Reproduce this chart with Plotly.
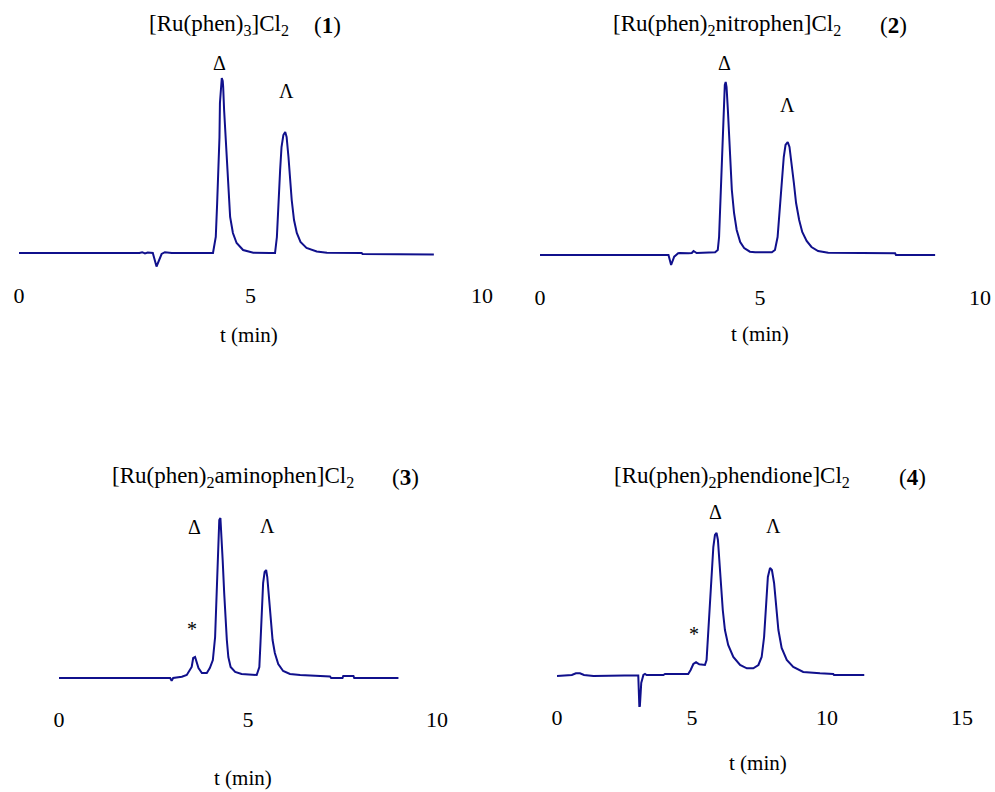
import plotly.graph_objects as go

W, H = 995, 792
FONT = "Liberation Serif, Times New Roman, serif"
LINE_COLOR = "#10108c"

# ---------------- data (retention time in min, detector signal in a.u.) ----------------
t1 = [0, 2.60, 2.66, 2.72, 2.78, 2.89, 2.97, 3.08, 3.15, 3.30, 4.19, 4.25, 4.28, 4.31, 4.33, 4.34,
      4.36, 4.38, 4.40, 4.41, 4.43, 4.46, 4.49, 4.52, 4.56, 4.62, 4.70, 4.84, 5.06, 5.42, 5.53, 5.57,
      5.60, 5.64, 5.67, 5.71, 5.75, 5.78, 5.82, 5.85, 5.89, 5.94, 6.00, 6.08, 6.21, 6.43, 6.65, 7.40,
      7.42, 8.96]
s1 = [0, 0, 0.8, -0.5, 0.5, 0, -13.5, -1, 0.8, 0, 0, 16, 50, 83, 116, 150,
      170, 175, 172, 166, 143, 116, 90, 60, 36, 20, 10, 3, 0.3, 0, 0, 16,
      50, 83, 106, 118, 121, 116, 96, 73, 53, 33, 20, 11, 5, 1.5, 0.3, 0,
      -1, -1.5]

t2 = [0, 2.88, 2.92, 2.98, 3.03, 3.05, 3.14, 3.18, 3.37, 3.45, 3.49, 3.56, 3.98, 4.04, 4.07, 4.10,
      4.13, 4.15, 4.18, 4.20, 4.22, 4.24, 4.27, 4.30, 4.33, 4.36, 4.41, 4.47, 4.55, 4.64, 4.77, 4.89,
      5.27, 5.34, 5.40, 5.45, 5.49, 5.54, 5.58, 5.63, 5.67, 5.72, 5.77, 5.82, 5.89, 5.96, 6.06, 6.17,
      6.32, 6.55, 8.07, 8.09, 8.98]
s2 = [0, 0.5, 0, -10, -3, -1.7, 1.7, 2, 1.7, 2, 4, 2, 2.7, 5, 18, 52,
      85, 118, 152, 170, 173, 168, 145, 118, 92, 65, 42, 25, 13, 7, 3.3, 2.7,
      2.7, 5, 18, 45, 75, 98, 110, 113, 108, 92, 72, 52, 35, 23, 14, 8,
      4, 2.3, 1.7, 0, 0]

t3 = [0, 2.94, 2.98, 3.02, 3.25, 3.38, 3.51, 3.55, 3.60, 3.64, 3.69, 3.78, 3.91, 3.99, 4.07, 4.13,
      4.17, 4.21, 4.24, 4.27, 4.29, 4.33, 4.37, 4.40, 4.44, 4.48, 4.54, 4.66, 4.83, 5.23, 5.30, 5.33,
      5.37, 5.40, 5.44, 5.48, 5.51, 5.56, 5.60, 5.65, 5.71, 5.80, 5.93, 6.11, 6.38, 7.17, 7.20, 7.50,
      7.52, 7.79, 7.81, 8.98]
s3 = [0, 0, -2.7, 0, 1.3, 3, 11, 20, 21, 16, 10, 5, 5, 10, 18, 41,
      85, 135, 158, 160, 148, 118, 85, 58, 38, 21, 11, 6, 4, 3, 11, 35,
      68, 95, 106, 108, 101, 81, 58, 38, 25, 14, 7, 4, 3, 1.5, 0, 0,
      2, 2, 0, 0]

t4 = [0, 0.55, 0.70, 0.85, 1.00, 1.35, 2.50, 3.01, 3.05, 3.07, 3.12, 3.20, 3.26, 3.32, 3.94, 4.00,
      4.86, 4.95, 5.05, 5.15, 5.27, 5.48, 5.54, 5.59, 5.64, 5.69, 5.74, 5.79, 5.85, 5.91, 5.96, 6.01,
      6.06, 6.14, 6.22, 6.34, 6.53, 6.78, 7.03, 7.27, 7.46, 7.58, 7.67, 7.74, 7.81, 7.89, 7.96, 8.04,
      8.11, 8.20, 8.32, 8.51, 8.75, 9.12, 9.74, 10.23, 10.26, 11.38]
s4 = [0, 1, 2.7, 2.7, 1, 0, 0.5, 0.5, -31, -30, -7, 1, 2, 1, 1, 2,
      2, 6, 12, 13.7, 11.7, 11, 16, 39, 63, 89, 113, 129, 141, 143, 136, 116,
      89, 66, 46, 31, 19, 11, 7.7, 7.7, 11, 19, 39, 73, 99, 108, 106, 93,
      69, 46, 28, 16, 9, 4, 2.7, 2, 1, 1]

ticks_10 = [0, 5, 10]
ticks_15 = [0, 5, 10, 15]

compounds = ["[Ru(phen)<sub>3</sub>]Cl<sub>2</sub>",
             "[Ru(phen)<sub>2</sub>nitrophen]Cl<sub>2</sub>",
             "[Ru(phen)<sub>2</sub>aminophen]Cl<sub>2</sub>",
             "[Ru(phen)<sub>2</sub>phendione]Cl<sub>2</sub>"]
numbers = ["1", "2", "3", "4"]
x_title = "t (min)"


def fx(p):
    return p / W


def fy(p):
    return 1 - p / H


# layout geometry (window pixels)
panels = [
    dict(t=t1, s=s1, ticks=ticks_10, xpx=(19, 482), xr=(0, 10), ypx=(55, 285), ref=253,
         name=(219, 25), num=(327, 25), delta=(219, 63), lam=(286, 91), star=None, xl=(249, 335)),
    dict(t=t2, s=s2, ticks=ticks_10, xpx=(540, 980), xr=(0, 10), ypx=(55, 287), ref=255,
         name=(727, 25), num=(893, 25), delta=(724, 63), lam=(787, 105), star=None, xl=(760, 334)),
    dict(t=t3, s=s3, ticks=ticks_10, xpx=(59, 437), xr=(0, 10), ypx=(505, 709), ref=678,
         name=(233, 477), num=(405, 477), delta=(194, 527), lam=(267, 526), star=(192, 629), xl=(243, 778)),
    dict(t=t4, s=s4, ticks=ticks_15, xpx=(557, 962), xr=(0, 15), ypx=(505, 707), ref=676,
         name=(732, 477), num=(912, 477), delta=(715, 512), lam=(773, 526), star=(694, 634), xl=(758, 763)),
]

fig = go.Figure()
annotations = []
layout_axes = {}

for i, p in enumerate(panels, start=1):
    xa = "x" if i == 1 else f"x{i}"
    ya = "y" if i == 1 else f"y{i}"
    fig.add_trace(go.Scatter(x=p["t"], y=p["s"], mode="lines",
                             line=dict(color=LINE_COLOR, width=2),
                             xaxis=xa, yaxis=ya, showlegend=False, hoverinfo="skip"))
    pt, pb = p["ypx"]
    layout_axes["xaxis" if i == 1 else f"xaxis{i}"] = dict(
        domain=[fx(p["xpx"][0]), fx(p["xpx"][1])], range=list(p["xr"]),
        anchor=ya, tickmode="array", tickvals=p["ticks"], ticktext=[str(v) for v in p["ticks"]],
        ticks="", showline=False, showgrid=False, zeroline=False, automargin=False,
        ticklabelstandoff=-5, fixedrange=True,
        tickfont=dict(family=FONT, size=22, color="black"),
    )
    layout_axes["yaxis" if i == 1 else f"yaxis{i}"] = dict(
        domain=[fy(pb), fy(pt)], range=[p["ref"] - pb, p["ref"] - pt],
        anchor=xa, visible=False, showgrid=False, zeroline=False, automargin=False, fixedrange=True,
    )

    def add(text, pos, size):
        annotations.append(dict(text=text, x=fx(pos[0]), y=fy(pos[1]), xref="paper", yref="paper",
                                xanchor="center", yanchor="middle", showarrow=False,
                                font=dict(family=FONT, size=size, color="black")))

    add(compounds[i - 1], p["name"], 23)
    add(f"(<b>{numbers[i - 1]}</b>)", p["num"], 23)
    add("Δ", p["delta"], 20)
    add("Λ", p["lam"], 20)
    if p["star"]:
        add("*", p["star"], 20)
    add(x_title, p["xl"], 21)

fig.update_layout(
    width=W, height=H, margin=dict(l=0, r=0, t=0, b=0, autoexpand=False),
    paper_bgcolor="white", plot_bgcolor="white",
    annotations=annotations, showlegend=False, hovermode=False,
    **layout_axes,
)

# remove the default 8 px page margin so the 995x792 figure fills the window exactly
fig.write_html("out.html", config={"displayModeBar": False, "staticPlot": False},
               post_script="document.body.style.margin='0';document.body.style.overflow='hidden';")
